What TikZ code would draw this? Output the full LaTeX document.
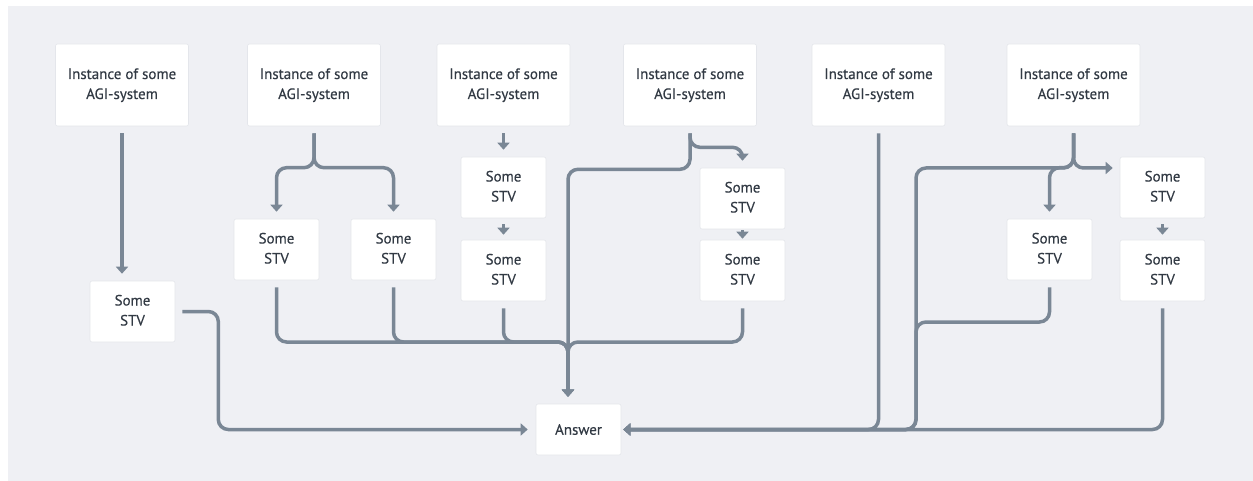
\documentclass[tikz,border=0pt]{standalone}
\usepackage{fontspec}
\setmainfont{PT Sans}[FakeBold=0.3]
\usetikzlibrary{arrows.meta,calc}
\definecolor{bg}{RGB}{239,240,244}
\definecolor{ln}{RGB}{122,135,149}
\definecolor{txt}{RGB}{50,58,68}
\definecolor{edge}{RGB}{228,230,235}
\newcommand\twoline[2]{\raisebox{-2.5pt}{\begin{tabular}{@{}c@{}}#1\\#2\end{tabular}}}
\begin{document}
\begin{tikzpicture}[x=1pt,y=-1pt,
  box/.style={fill=white, draw=edge, line width=0.6pt, rounded corners=2pt, inner sep=0pt,
    align=center, text=txt, font=\fontsize{15}{20}\selectfont},
  big/.style={box, minimum width=133pt, minimum height=82pt},
  stv/.style={box, minimum width=85pt, minimum height=61pt},
  conn/.style={draw=ln, line width=3.5pt, rounded corners=10pt},
  arr/.style={conn, -{Triangle[width=12pt,length=7pt]}}]
\useasboundingbox (0,0) rectangle (1253,481);
\fill[white] (0,0) rectangle (1253,481);
\fill[bg] (8,6) rectangle (1253,481);

% top row
\node[big] (A1) at (122,85) {\twoline{Instance of some}{AGI-system}};
\node[big] (A2) at (314,85) {\twoline{Instance of some}{AGI-system}};
\node[big] (A3) at (503.5,85) {\twoline{Instance of some}{AGI-system}};
\node[big] (A4) at (690,85) {\twoline{Instance of some}{AGI-system}};
\node[big] (A5) at (878.5,85) {\twoline{Instance of some}{AGI-system}};
\node[big] (A6) at (1073.5,85) {\twoline{Instance of some}{AGI-system}};

% STV boxes
\node[stv] (S1)  at (132.5,311.5) {\twoline{Some}{STV}};
\node[stv] (S2a) at (276.5,249.5) {\twoline{Some}{STV}};
\node[stv] (S2b) at (393.5,249.5) {\twoline{Some}{STV}};
\node[stv] (S3a) at (503.5,187.5) {\twoline{Some}{STV}};
\node[stv] (S3b) at (503.5,270.5) {\twoline{Some}{STV}};
\node[stv] (S4a) at (742.5,198.5) {\twoline{Some}{STV}};
\node[stv] (S4b) at (742.5,270.5) {\twoline{Some}{STV}};
\node[stv] (S6a) at (1049.5,249.5) {\twoline{Some}{STV}};
\node[stv] (S6b) at (1162.5,187.5) {\twoline{Some}{STV}};
\node[stv] (S6c) at (1162.5,270.5) {\twoline{Some}{STV}};

\node[box, minimum width=85pt, minimum height=51pt] (Ans) at (578.5,429.5) {\raisebox{-1pt}{Answer}};

\coordinate (m) at (568,342);
\coordinate (k) at (916,168);
\coordinate (k2) at (916,322);

% branch 1
\draw[arr] ([yshift=-7pt]A1.south) -- ([yshift=7pt]A1.south |- S1.north);
\draw[arr] ([xshift=7pt]S1.east) -- ++(36,0) |- ([xshift=-8pt]Ans.west);

% branch 2
\draw[arr] ([yshift=-7pt]A2.south) |- ([yshift=51pt]S2a.north) -- ([yshift=7pt]S2a.north);
\draw[arr] ([yshift=-7pt]A2.south) |- ([yshift=51pt]S2b.north) -- ([yshift=7pt]S2b.north);
\draw[arr] ([yshift=-7pt]S2a.south) |- (m) -- ([yshift=7pt]m |- Ans.north);
\draw[arr] ([yshift=-7pt]S2b.south) |- (m) -- ([yshift=7pt]m |- Ans.north);

% branch 3
\draw[arr] ([yshift=-7pt]A3.south) -- ([yshift=7pt]S3a.north);
\draw[arr] ([yshift=-6pt]S3a.south) -- ([yshift=5pt]S3b.north);
\draw[arr] ([yshift=-7pt]S3b.south) |- (m) -- ([yshift=7pt]m |- Ans.north);

% branch 4
\draw[arr] ([yshift=-7pt]A4.south) -- ++(0,36) -| ([yshift=7pt]m |- Ans.north);
\draw[arr] ([yshift=-7pt]A4.south) -- ++(0,14) -| ([yshift=7pt]S4a.north);
\draw[arr] ([yshift=-1pt]S4a.south) -- ([yshift=1pt]S4b.north);
\draw[arr] ([yshift=-7pt]S4b.south) |- (m) -- ([yshift=7pt]m |- Ans.north);

% branch 5
\draw[arr] ([yshift=-7pt]A5.south) |- ([xshift=2pt]Ans.east);

% branch 6
\draw[arr] ([yshift=-7pt]A6.south) |- (k) |- ([xshift=2pt]Ans.east);
\draw[arr] ([yshift=-7pt]A6.south) |- ([yshift=51pt]S6a.north) -- ([yshift=7pt]S6a.north);
\draw[arr] ([yshift=-7pt]A6.south) |- ([xshift=-7pt]S6b.west |- k);
\draw[arr] ([yshift=-7pt]S6a.south) |- (k2) |- ([xshift=2pt]Ans.east);
\draw[arr] ([yshift=-6pt]S6b.south) -- ([yshift=5pt]S6c.north);
\draw[arr] ([yshift=-7pt]S6c.south) |- ([xshift=2pt]Ans.east);
\end{tikzpicture}
\end{document}
